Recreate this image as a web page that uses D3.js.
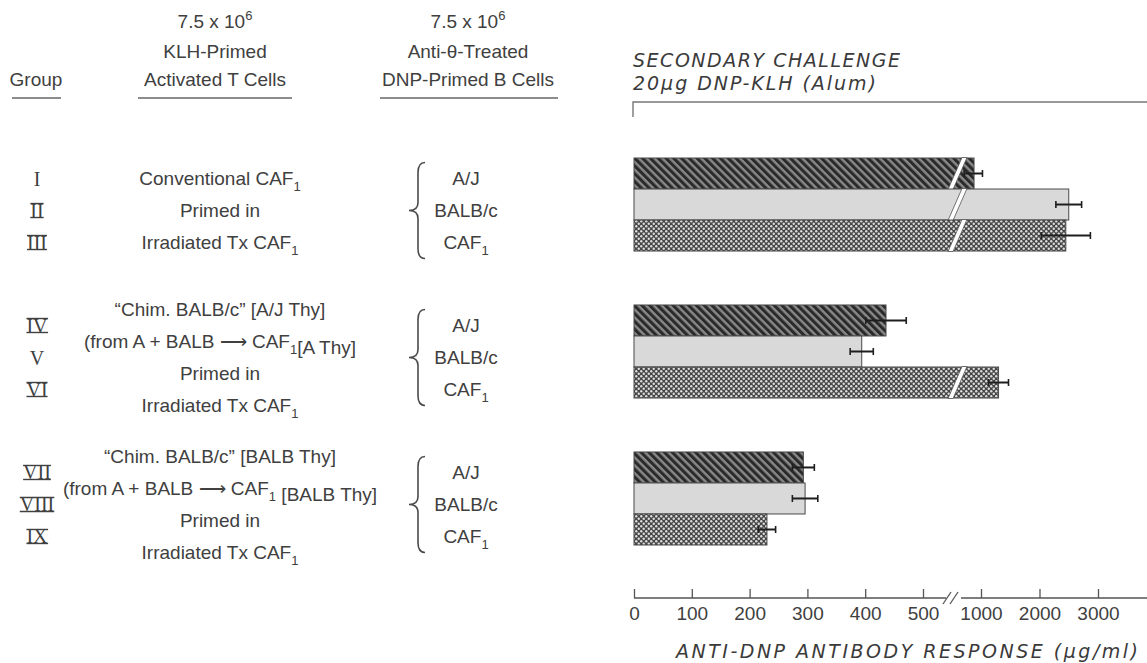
<!DOCTYPE html>
<html>
<head>
<meta charset="utf-8">
<script src="https://cdn.jsdelivr.net/npm/d3@7"></script>
<style>
  body { margin: 0; background: #fff; }
  svg { display: block; }
  .txt { font-family: "Liberation Sans", Arial, sans-serif; font-size: 19px; fill: #404040; }
  .rom { font-family: "Liberation Serif", serif; font-size: 20px; fill: #404040; }
  .ital { font-family: "DejaVu Sans", sans-serif; font-style: italic; font-size: 19px; fill: #3a3a3a; }
</style>
</head>
<body>
<svg id="chart" width="1147" height="663"></svg>
<script>
// values (ug/ml)
const numerals = ["I", "II", "III", "IV", "V", "VI", "VII", "VIII", "IX"];
const bCells = ["A/J", "BALB/c", "CAF1"];
const responses = [940, 2500, 2450, 436, 394, 1300, 293, 296, 230];
const errors = [85, 220, 420, 35, 20, 170, 19, 22, 15];
const tickValues = [0, 100, 200, 300, 400, 500, 1000, 2000, 3000];

// T cell donor text, one list per group (CAF1 written with subscript later)
const tCellText = [
  ["Conventional CAF_1", "Primed in", "Irradiated Tx CAF_1"],
  ["\u201CChim. BALB/c\u201D [A/J Thy]", "(from A + BALB \u27F6 CAF_1[A Thy]", "Primed in", "Irradiated Tx CAF_1"],
  ["\u201CChim. BALB/c\u201D [BALB Thy]", "(from A + BALB \u27F6 CAF_1 [BALB Thy]", "Primed in", "Irradiated Tx CAF_1"]
];

const svg = d3.select("#chart");
const defs = svg.append("defs");

// bar fills
const hatch = defs.append("pattern").attr("id", "hatch")
  .attr("width", 5.5).attr("height", 5.5)
  .attr("patternUnits", "userSpaceOnUse")
  .attr("patternTransform", "rotate(-45)");
hatch.append("rect").attr("width", 5.5).attr("height", 5.5).attr("fill", "#8a8a8a");
hatch.append("line").attr("x1", 1.5).attr("x2", 1.5).attr("y1", 0).attr("y2", 5.5)
  .attr("stroke", "#2a2a2a").attr("stroke-width", 3.2);

const dots = defs.append("pattern").attr("id", "dots")
  .attr("width", 5).attr("height", 5)
  .attr("patternUnits", "userSpaceOnUse");
dots.append("rect").attr("width", 5).attr("height", 5).attr("fill", "#474747");
dots.append("circle").attr("cx", 1.25).attr("cy", 1.25).attr("r", 1.2).attr("fill", "#dcdcdc");
dots.append("circle").attr("cx", 3.75).attr("cy", 3.75).attr("r", 1.2).attr("fill", "#dcdcdc");

const fills = ["url(#hatch)", "#d9d9d9", "url(#dots)"];

// scales: broken axis, compressed above 500
const x = d3.scaleLinear()
  .domain([0, 500, 1000, 3000])
  .range([634, 923, 981, 1098]);

const yGroup = d3.scaleBand().domain([0, 1, 2])
  .range([158, 545]).paddingInner(0.367);
const yBar = d3.scaleBand().domain(bCells).range([0, yGroup.bandwidth()]);

const breakX = 948;   // bottom-left of the white break slash
const slant = 14;
const gapW = 5;

// rows
const rows = responses.map((v, i) => ({
  v, e: errors[i], g: Math.floor(i / 3), cell: bCells[i % 3], k: i % 3
}));

const bars = svg.append("g");
rows.forEach(d => {
  const y0 = yGroup(d.g) + yBar(d.cell);
  const h = yBar.bandwidth();
  bars.append("rect")
    .attr("x", x(0)).attr("y", y0)
    .attr("width", x(d.v) - x(0)).attr("height", h)
    .attr("fill", fills[d.k])
    .attr("stroke", "#4a4a4a").attr("stroke-width", 1);
  if (d.v > 560) {
    // white break through the bar
    bars.append("path")
      .attr("d", `M${breakX},${y0 + h + 0.5} L${breakX + slant},${y0 - 0.5} L${breakX + slant + gapW},${y0 - 0.5} L${breakX + gapW},${y0 + h + 0.5}Z`)
      .attr("fill", "#fff")
      .attr("stroke", "#555").attr("stroke-width", 0.8);
  }
});

// error bars
const err = svg.append("g").attr("stroke", "#1e1e1e").attr("stroke-width", 2);
rows.forEach(d => {
  const cy = yGroup(d.g) + yBar(d.cell) + yBar.bandwidth() / 2;
  const x1 = x(d.v - d.e), x2 = x(d.v + d.e);
  err.append("line").attr("x1", x1).attr("x2", x2).attr("y1", cy).attr("y2", cy);
  err.append("line").attr("x1", x1).attr("x2", x1).attr("y1", cy - 3.5).attr("y2", cy + 3.5).attr("stroke-width", 1.6);
  err.append("line").attr("x1", x2).attr("x2", x2).attr("y1", cy - 3.5).attr("y2", cy + 3.5).attr("stroke-width", 1.6);
});

// bottom axis
const axisY = 598;
const ax = svg.append("g").attr("transform", `translate(0,${axisY})`)
  .call(d3.axisBottom(x).tickValues(tickValues).tickSize(-9).tickPadding(9).tickFormat(d3.format("d")));
ax.select(".domain").remove();
ax.selectAll(".tick line").attr("stroke", "#555").attr("stroke-width", 1.3);
ax.selectAll(".tick text").attr("fill", null)
  .style("font-family", "'Liberation Sans', Arial, sans-serif").style("font-size", "19px").style("fill", "#404040");

svg.append("line").attr("x1", x(0)).attr("x2", 946).attr("y1", axisY).attr("y2", axisY)
  .attr("stroke", "#555").attr("stroke-width", 1.3);
svg.append("line").attr("x1", 961).attr("x2", 1147).attr("y1", axisY).attr("y2", axisY)
  .attr("stroke", "#555").attr("stroke-width", 1.3);
[946, 953].forEach(bx => {
  svg.append("line").attr("x1", bx - 3).attr("x2", bx + 5).attr("y1", axisY + 6).attr("y2", axisY - 6)
    .attr("stroke", "#555").attr("stroke-width", 1.3);
});

svg.append("text").attr("class", "ital")
  .attr("x", 676).attr("y", 658)
  .attr("textLength", 462).attr("lengthAdjust", "spacing")
  .text("ANTI-DNP ANTIBODY RESPONSE (\u00B5g/ml)");

// top right title and line
svg.append("text").attr("class", "ital").attr("x", 633).attr("y", 67)
  .attr("textLength", 267).attr("lengthAdjust", "spacing")
  .text("SECONDARY CHALLENGE");
svg.append("text").attr("class", "ital").attr("x", 633).attr("y", 90)
  .attr("textLength", 243).attr("lengthAdjust", "spacing")
  .text("20\u00B5g DNP-KLH (Alum)");
svg.append("path").attr("d", "M633,117 V102 H1147")
  .attr("fill", "none").attr("stroke", "#777").attr("stroke-width", 1.4);

// left headers
const head = svg.append("g");
function headCol(cx, lines, x0, x1) {
  lines.forEach((l, i) => {
    const t = head.append("text").attr("class", "txt").attr("text-anchor", "middle")
      .attr("x", cx).attr("y", [28, 58, 86][i]);
    if (l === "7.5 x 10^6") {
      t.append("tspan").text("7.5 x 10");
      t.append("tspan").attr("dy", -8).style("font-size", "13px").text("6");
    } else {
      t.text(l);
    }
  });
  head.append("line").attr("x1", x0).attr("x2", x1).attr("y1", 98).attr("y2", 98)
    .attr("stroke", "#666").attr("stroke-width", 1.6);
}
head.append("text").attr("class", "txt").attr("text-anchor", "middle")
  .attr("x", 36).attr("y", 86).text("Group");
head.append("line").attr("x1", 12).attr("x2", 61).attr("y1", 98).attr("y2", 98)
  .attr("stroke", "#666").attr("stroke-width", 1.6);
headCol(215, ["7.5 x 10^6", "KLH-Primed", "Activated T Cells"], 138, 292);
headCol(468, ["7.5 x 10^6", "Anti-\u03B8-Treated", "DNP-Primed B Cells"], 380, 558);

// text with CAF_1 subscripts
function subText(sel, s) {
  const parts = s.split("_1");
  parts.forEach((p, i) => {
    sel.append("tspan").text(p);
    if (i < parts.length - 1) {
      sel.append("tspan").attr("dy", 6).style("font-size", "13px").text("1");
      sel.append("tspan").attr("dy", -6).text("");
    }
  });
}

const left = svg.append("g");
const lineGap = 32;
[0, 1, 2].forEach(g => {
  const c = yGroup(g) + yGroup.bandwidth() / 2 + 6;
  // numerals
  [0, 1, 2].forEach(k => {
    const t = left.append("text").attr("class", "rom").attr("text-anchor", "middle")
      .attr("x", 37).attr("y", c + (k - 1) * lineGap).attr("dy", "0.35em")
      .text(numerals[g * 3 + k]);
    if (numerals[g * 3 + k].length > 1) {
      const bb = t.node().getBBox();
      [bb.y + 4, bb.y + bb.height - 4].forEach(yy => {
        left.append("line").attr("x1", bb.x).attr("x2", bb.x + bb.width)
          .attr("y1", yy).attr("y2", yy).attr("stroke", "#404040").attr("stroke-width", 1.4);
      });
    }
  });
  // T cell text
  const lines = tCellText[g];
  lines.forEach((l, k) => {
    const t = left.append("text").attr("class", "txt").attr("text-anchor", "middle")
      .attr("x", 220).attr("y", c + (k - (lines.length - 1) / 2) * lineGap).attr("dy", "0.35em");
    subText(t, l);
  });
  // bracket
  const bx = 418, top = c - 48, bot = c + 48;
  left.append("path")
    .attr("d", `M${bx + 7},${top} Q${bx},${top} ${bx},${top + 10} L${bx},${c - 8} Q${bx},${c} ${bx - 9},${c} Q${bx},${c} ${bx},${c + 8} L${bx},${bot - 10} Q${bx},${bot} ${bx + 7},${bot}`)
    .attr("fill", "none").attr("stroke", "#4a4a4a").attr("stroke-width", 1.6);
  // B cell labels
  bCells.forEach((b, k) => {
    const t = left.append("text").attr("class", "txt").attr("text-anchor", "middle")
      .attr("x", 466).attr("y", c + (k - 1) * lineGap).attr("dy", "0.35em");
    subText(t, b === "CAF1" ? "CAF_1" : b);
  });
});
</script>
</body>
</html>
